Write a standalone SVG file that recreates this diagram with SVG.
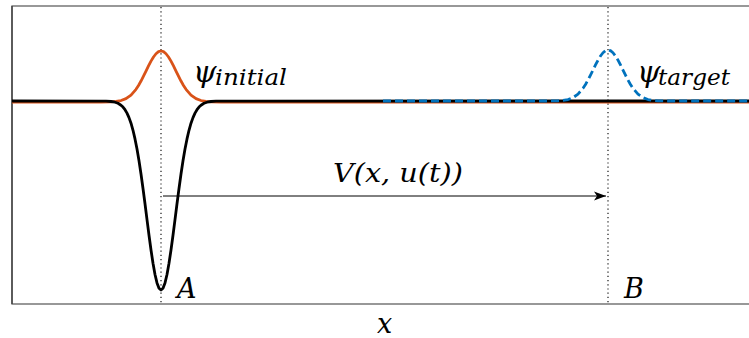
<svg xmlns="http://www.w3.org/2000/svg" width="749" height="338" viewBox="0 0 749 338">
<style>
.dot{stroke:#000;stroke-width:1.1;stroke-dasharray:1.2 3;fill:none}
.frame{stroke:#777;stroke-width:1.3;fill:none}
.lbl{font-family:"DejaVu Serif",serif;font-style:italic;fill:#000}
</style>
<defs>
<marker id="arr" markerWidth="14" markerHeight="10" refX="12" refY="5" orient="auto" markerUnits="userSpaceOnUse">
<path d="M0,0.5 L12,5 L0,9.5 L3,5 Z" fill="#000"/>
</marker>
</defs>
<rect x="0" y="0" width="749" height="338" fill="#fff"/>
<g id="frame">
<path class="frame" d="M749,6 H12 V304 H749"/>
<path d="M12,6 V304" stroke="#333" stroke-width="1.3"/>
</g>
<g id="markers">
<line class="dot" x1="161" y1="7" x2="161" y2="304"/>
<line class="dot" x1="608" y1="7" x2="608" y2="304"/>
</g>
<g id="psi-initial-curve">
<polyline fill="none" stroke="#d95319" stroke-width="2.8" stroke-linejoin="round" points="12,102 101,102 111,101.8 116,101.43 121,100.54 126,98.65 131,95.1 136,89.29 138.5,85.44 141,81.03 143.5,76.18 146,71.07 148.5,65.96 151,61.15 153.5,56.99 156,53.75 158.5,51.7 161,51 163.5,51.7 166,53.75 168.5,56.99 171,61.15 173.5,65.96 176,71.07 178.5,76.18 181,81.03 183.5,85.44 186,89.29 191,95.1 196,98.65 201,100.54 206,101.43 211,101.8 221,102 749,102"/>
</g>
<g id="potential-curve">
<polyline fill="none" stroke="#000" stroke-width="2.8" stroke-linejoin="round" points="12,101 101,101.04 106,101.14 111,101.5 115,102.2 118,103.3 121,105.2 123,107.1 125,109.7 127,113.1 129,117.6 131,123.2 133,130.3 135,138.9 137,149 139,160.8 141,174 143,188.5 145,203.8 147,219.6 149,235.2 151,250 153,263.3 155,274.5 157,282.9 159,288.2 161,290 163,288.2 165,282.9 167,274.5 169,263.3 171,250 173,235.2 175,219.6 177,203.8 179,188.5 181,174 183,160.8 185,149 187,138.9 189,130.3 191,123.2 193,117.6 195,113.1 197,109.7 199,107.1 201,105.2 204,103.3 207,102.2 211,101.5 216,101.14 221,101.04 749,101"/>
</g>
<g id="psi-target-curve">
<polyline fill="none" stroke="#0072bd" stroke-width="2.8" stroke-dasharray="8 4" stroke-linejoin="round" points="383,101 548,101 558,100.8 563,100.43 568,99.54 573,97.65 578,94.1 583,88.29 585.5,84.44 588,80.03 590.5,75.18 593,70.07 595.5,64.96 598,60.15 600.5,55.99 603,52.75 605.5,50.7 608,50 610.5,50.7 613,52.75 615.5,55.99 618,60.15 620.5,64.96 623,70.07 625.5,75.18 628,80.03 630.5,84.44 633,88.29 638,94.1 643,97.65 648,99.54 653,100.43 658,100.8 668,101 749,101"/>
</g>
<g id="connectors">
<line x1="163" y1="196" x2="606" y2="196" stroke="#000" stroke-width="1" marker-end="url(#arr)"/>
</g>
<g id="labels">
<text class="lbl" x="193" y="82" font-size="30">ψ</text>
<text class="lbl" x="215" y="85" font-size="22" textLength="72" lengthAdjust="spacingAndGlyphs">initial</text>
<text class="lbl" x="637" y="82" font-size="30">ψ</text>
<text class="lbl" x="658" y="85" font-size="22" textLength="72" lengthAdjust="spacingAndGlyphs">target</text>
<text class="lbl" x="333" y="182" font-size="26" textLength="130" lengthAdjust="spacingAndGlyphs">V(x, u(t))</text>
<text class="lbl" x="177" y="298" font-size="27">A</text>
<text class="lbl" x="624" y="298" font-size="27">B</text>
<text class="lbl" x="377" y="333" font-size="27">x</text>
</g>
</svg>
